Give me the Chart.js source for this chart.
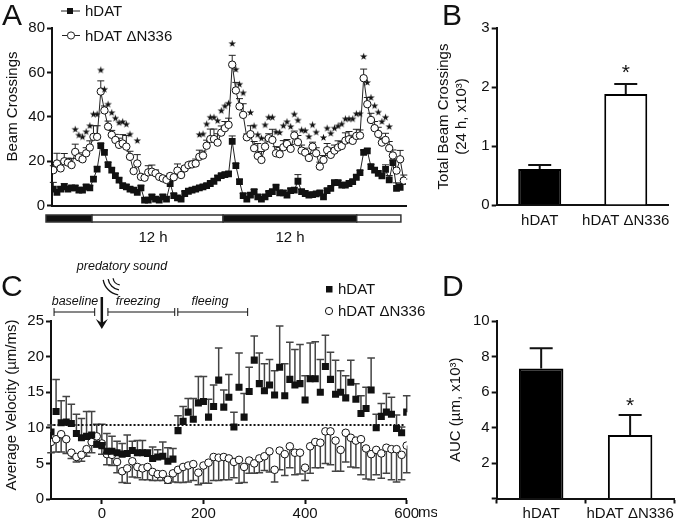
<!DOCTYPE html>
<html>
<head>
<meta charset="utf-8">
<style>
html, body { margin: 0; padding: 0; background: #fff; }
#page { position: relative; width: 677px; height: 521px; overflow: hidden; }
canvas { position: absolute; }
</style>
<script src="https://cdn.jsdelivr.net/npm/chart.js@4/dist/chart.umd.min.js"></script>
</head>
<body>
<div id="page">
  <canvas id="panelA" width="430" height="250" style="left:0;top:0"></canvas>
  <canvas id="panelB" width="247" height="250" style="left:430px;top:0"></canvas>
  <canvas id="panelC" width="437" height="266" style="left:0;top:255px"></canvas>
  <canvas id="panelD" width="247" height="266" style="left:430px;top:255px"></canvas>
</div>
<script>
// Panel A - beam crossings, one point per time bin
const beamDat = [7.5,6,7.5,8.5,7.5,8,8,7,7,8.5,8,12,16.5,
  27,24,18.5,16,13.5,11.5,9,8.5,7.5,7,6,8,
  2.5,2.5,4,3,2.5,4,3,10,
  4.5,3.5,3,5.5,6.5,7,7.5,8,8.5,9,10,11,12.5,13.5,14,14.3,
  29,18,10.8,4.5,3,4.8,6.3,4,3,4,5.5,6.3,8.3,5.8,5.8,4.8,6.8,7,11,
  6.3,5.5,4.8,5,5.3,5.8,4,6.8,7.8,10.4,10.4,9.3,9.3,10,10.8,12.8,14.9,
  24,24.7,17.6,16,14.6,13.4,16.4,11.6,19.4,7.8,8.3,11];
const beamDatErr = [3,1,1,1.5,1,1,1,1,1,1,1,1,1,
  1,1,1,1,1,1,1,1,1,1,1,1,
  1,1,1,1,1,1,1,3,
  1,1,1,1,1,1,1,1,1,1,1,1,1,1,1,1,
  2.4,1,1,1,1,1,1,1,1,1,1,1,1,1,1,1,1,1,3,
  1,1,1,1,1,1,1,1,1,1,1,1,1,1,1,1,1,
  1,1,1,1,1,1,2,2,1,2.5,1.5,1];
const beamMut = [16,19,16.8,20,19.4,18.3,24.2,21.8,20.9,23.6,26.2,31,31,
  51.4,42.9,35.6,31.9,29.6,27.4,28,26.6,22,15.6,19,13,
  12.6,15,15.3,14.6,13,12.3,11.6,13.4,12.8,15.8,13.8,16.8,
  18.3,18.6,19,22,22.6,27,30,30,28.4,32.9,34.9,36.4,
  63.5,51.9,44.7,40.9,30.8,32.2,25.9,22.4,20.6,26.6,30.4,29.6,23.6,23.2,26.3,27.8,25.6,31.6,28.6,
  24.8,23.9,21.5,26.6,23.6,17.6,20.6,25,22.9,24.8,26.2,26.9,29.3,29.9,29.2,31.4,31.6,
  57.4,45.7,38.6,34.9,32.3,28.4,29.6,25.9,22.6,15.8,20.9,11.3];
const beamMutErr = [2,4.6,3,3.5,2,3,3.5,2,2,2.5,3,5,5,
  4.8,2,2.5,2,2.5,3,4,5,2.5,1,4,1,
  1,3,3,1.5,1,1,1,1,1,3,1,1,
  1,1.5,2,3,2,2.5,4.5,4.5,4,3,3,3,
  4.2,3.6,3.5,5,1.5,3.8,3,5.6,3.8,3.8,2,4.8,3,3,3,2,2,2,3,
  2.5,2,2,2,2.5,2,2,3,3,2.5,3,2,3.5,3.5,2.5,3,2.5,
  4.1,3,3,3,3,2,3,3,2.5,1,4,2.5];
const starBins = [6,7,8,9,10,11,12,13,14,15,16,17,18,19,20,21,23,
  40,41,42,43,44,45,46,47,48,49,50,51,52,54,55,56,57,58,59,60,61,62,63,64,65,66,67,68,69,70,71,72,
  74,75,76,77,78,79,80,81,82,83,84,85,86,87,88,89,90,91,92];
const starHeights = [34.4,31.8,31,33.3,36,41.2,41.2,61.1,52.4,45.7,41.9,39.4,37.4,37.8,36.7,32.2,29.3,
  32,32.3,36.8,39.8,39.8,38.3,42.8,44.9,46.1,73,61.4,54.7,50.8,42,35.9,32,30.4,36.4,39.8,39.8,33.2,33,36,37.8,35.6,41.2,38.5,34.1,33.8,31.1,36.4,33.1,
  30.7,34.9,32.6,34.9,35.9,36.8,39.1,39.1,39.1,41.4,41.4,67.2,55.5,48.7,45,42.1,37.9,39.8,35.6];
const lightStart = [-2, 10.6, 46.5, 83.1];
const lightEnd = [10.6, 46.5, 83.1, 95.2];
const lightFill = ['#111', '#fff', '#111', '#fff'];

// Panel C - velocity, -100 to 600 ms in 10 ms steps
const timeMs = [-100,-90,-80,-70,-60,-50,-40,-30,-20,-10,0,10,20,30,40,50,60,70,80,90,100,110,120,130,140,
  150,160,170,180,190,200,210,220,230,240,250,260,270,280,290,300,310,320,330,340,350,360,370,
  380,390,400,410,420,430,440,450,460,470,480,490,500,510,520,530,540,550,560,570,580,590,600];
const velDat = [9.4,12.3,10.7,10.8,10.6,9.2,8.6,8.8,9,7.7,7.5,6.7,6.7,6.5,6.3,6.4,6.8,6.5,6.5,6.4,5.7,5.9,6,5.3,5.6,
  9.6,10.9,12.2,11.2,13.5,13.7,11.5,13,16.7,12.9,14.3,10.1,15.7,11.5,15.1,19.5,16.2,15.2,16,14.6,18.5,14.5,16.8,
  16,16.2,13.9,16.9,16.9,15,18.6,16.8,14.7,15,14.2,16.4,14,12,12.7,15.3,10,11.6,12.2,11.9,9.9,9.3,12.2];
const velDatErr = [1,4.5,3.1,3.6,2.7,2.7,2.7,3.5,3.3,2.8,3,2.5,2.1,1.6,1.5,2.6,1.3,1.7,1.7,0.5,1.6,1,2,1.9,1.5,
  2.1,2.1,1.9,2.9,3.7,3.5,2.5,3,4.5,2.4,3.2,2.1,4.8,3.3,3.4,3.4,4.3,3.8,3.6,3.4,5.8,4.5,5.2,
  5,5.5,3.4,5,5.2,4.6,4.4,3.8,4.8,3,3.1,3.1,2.2,2.5,3,4.5,1.9,1.8,2.6,2.4,1.9,0.8,2.3];
const velMut = [8,8.4,9.1,8.4,6.5,5.9,6.2,7,8,8.8,7.8,6.3,6.2,5.2,3.9,4.3,5.3,4.5,4.3,4.5,3.8,3.5,3.5,2.7,3.6,
  4.1,4.5,4.7,4.9,3.7,4.7,5.1,5.9,5.8,5.9,5.7,5.2,5.5,4.5,5.4,5,5.7,6,6.7,4.1,6.8,6.3,7.4,
  6.5,6.5,4.4,7.4,8,7.9,9.5,9.5,8.2,6.9,9.3,8.6,8.2,8.4,7.1,6.3,6.9,6.4,7.2,7,7,6.2,7.5];
const velMutErr = [1.5,1.8,2.5,2,0.8,0.7,0.9,1,1.5,1.5,1.5,1.5,1.5,1.5,1.6,2.1,2.2,1.5,1.6,1.8,1.2,0.9,0.9,0.5,1.2,
  1.8,2.2,2.3,2.3,1.7,2.5,2.9,3.3,3.2,3.2,3,2.2,3.3,2.2,1.8,1.4,2,2,2.9,1.7,2.7,3,3,
  3.1,3,1.8,3.8,3.6,3.5,4.5,4.7,4.3,3,4.1,4.1,3.8,5,4.3,3.6,3.5,3.5,3.6,4.3,4.6,3.5,3.8];
const dottedMs = [-95, 597];
const dottedLevel = [10.4, 10.4];
const phaseStart = [-94, 12, 149.5];
const phaseEnd = [-14, 143.5, 287];

// Panels B and D
const groups = ['hDAT', 'hDAT ΔN336'];
const totalCrossings = [0.61, 1.88];
const totalErr = [0.07, 0.17];
const totalSig = [null, 2.14];
const aucValues = [7.33, 3.58];
const aucErr = [1.13, 1.12];
const aucSig = [null, 4.89];

const FONT = '"Liberation Sans", Arial, sans-serif';
const INK = '#111';

Chart.defaults.font.family = FONT;
Chart.defaults.font.size = 15;
Chart.defaults.color = INK;
Chart.defaults.animation = false;
Chart.defaults.responsive = false;
Chart.defaults.plugins.legend.display = false;
Chart.defaults.plugins.tooltip.enabled = false;

function points(xs, ys) {
    return ys.map((y, i) => ({ x: xs[i], y: y }));
}

// small five pointed star used as point style in panel A
function makeStar() {
    const c = document.createElement('canvas');
    c.width = 9;
    c.height = 9;
    const g = c.getContext('2d');
    g.fillStyle = INK;
    g.beginPath();
    for (let i = 0; i < 10; i++) {
        const r = i % 2 ? 1.5 : 3.9;
        const a = -Math.PI / 2 + i * Math.PI / 5;
        g.lineTo(4.5 + r * Math.cos(a), 4.7 + r * Math.sin(a));
    }
    g.closePath();
    g.fill();
    return c;
}

// Error bars read from dataset.errUp / dataset.errDown
const errorBars = {
    id: 'errorBars',
    beforeDatasetsDraw(chart) {
        const ctx = chart.ctx;
        chart.data.datasets.forEach((ds, d) => {
            if (!ds.errUp && !ds.errDown) return;
            const yScale = chart.scales.y;
            const els = chart.getDatasetMeta(d).data;
            ctx.save();
            ctx.strokeStyle = ds.errColor || INK;
            ctx.lineWidth = ds.errWidth || 1;
            const err = ds.errUp || ds.errDown;
            const sign = ds.errUp ? 1 : -1;
            els.forEach((el, i) => {
                const v = chart.data.datasets[d].data[i];
                const val = typeof v === 'object' ? v.y : v;
                const end = yScale.getPixelForValue(val + sign * err[i]);
                ctx.beginPath();
                ctx.moveTo(el.x, yScale.getPixelForValue(val));
                ctx.lineTo(el.x, end);
                ctx.moveTo(el.x - ds.errCap, end);
                ctx.lineTo(el.x + ds.errCap, end);
                ctx.stroke();
            });
            ctx.restore();
        });
    }
};

function text(ctx, str, x, y, font, align) {
    ctx.font = font;
    ctx.textAlign = align || 'left';
    ctx.textBaseline = 'alphabetic';
    ctx.fillStyle = INK;
    ctx.fillText(str, x, y);
}

// rotated axis label, for the ones not centred on their axis
function sideLabel(ctx, str, x, y) {
    ctx.save();
    ctx.translate(x, y);
    ctx.rotate(-Math.PI / 2);
    text(ctx, str, 0, 0, '15px ' + FONT, 'center');
    ctx.restore();
}

function axisY(min, max, step, titleText, width, titleGap, tickCb) {
    return {
        min: min,
        max: max,
        afterFit: s => { s.width = width; },
        border: { color: INK, width: 2 },
        grid: { drawOnChartArea: false, tickColor: INK, tickWidth: 2, tickLength: 5 },
        ticks: { stepSize: step, padding: 2, callback: tickCb || (v => v), font: { size: 15 } },
        title: { display: !!titleText, text: titleText, font: { size: 15 }, padding: { top: titleGap, bottom: 0 }, color: INK }
    };
}

// ---- Panel A ----
new Chart(document.getElementById('panelA'), {
    type: 'scatter',
    data: {
        datasets: [
            { data: points(beamMut.map((_, i) => i), beamMut), showLine: true, borderColor: '#222', borderWidth: 1,
              pointStyle: 'circle', pointRadius: 3.7, pointBorderWidth: 1, pointBorderColor: INK, pointBackgroundColor: '#fff',
              errUp: beamMutErr, errCap: 3.5, errColor: '#222', errWidth: 1, order: 1 },
            { data: points(beamDat.map((_, i) => i), beamDat), showLine: true, borderColor: '#222', borderWidth: 1,
              pointStyle: 'rect', pointRadius: 4.8, pointBorderWidth: 0, pointBackgroundColor: INK,
              errUp: beamDatErr, errCap: 3.5, errColor: '#222', errWidth: 1, order: 2 },
            { data: points(starBins, starHeights), showLine: false, pointStyle: makeStar(), pointRadius: 4, order: 0 }
        ]
    },
    options: {
        layout: { padding: { left: 0, right: 24, top: 28, bottom: 44.3 } },
        scales: {
            x: {
                type: 'linear', min: -0.36, max: 96.6,
                afterFit: s => { s.height = 0; },
                border: { color: INK, width: 2 },
                grid: { display: false },
                ticks: { display: false }
            },
            y: axisY(0, 80, 20, null, 52, 0)
        }
    },
    plugins: [errorBars, {
        id: 'notesA',
        afterDraw(chart) {
            const ctx = chart.ctx;
            const x = chart.scales.x;
            // light/dark bar under the axis
            ctx.save();
            ctx.lineWidth = 1.5;
            ctx.strokeStyle = '#333';
            lightStart.forEach((s, i) => {
                const a = x.getPixelForValue(s);
                const b = x.getPixelForValue(lightEnd[i]);
                ctx.fillStyle = lightFill[i];
                ctx.fillRect(a, 215, b - a, 7);
                ctx.strokeRect(a, 215, b - a, 7);
            });
            ctx.restore();
            sideLabel(ctx, 'Beam Crossings', 17, 106.5);
            text(ctx, '12 h', 153, 242, '15px ' + FONT, 'center');
            text(ctx, '12 h', 290, 242, '15px ' + FONT, 'center');
            text(ctx, 'A', 2, 25, '30px ' + FONT);
            // legend
            ctx.save();
            ctx.strokeStyle = '#222';
            ctx.lineWidth = 1;
            ctx.beginPath();
            ctx.moveTo(61, 11); ctx.lineTo(80, 11);
            ctx.moveTo(62, 35.5); ctx.lineTo(80, 35.5);
            ctx.stroke();
            ctx.fillStyle = INK;
            ctx.fillRect(67, 8, 6, 6);
            ctx.fillStyle = '#fff';
            ctx.beginPath();
            ctx.arc(71, 35.5, 3.6, 0, Math.PI * 2);
            ctx.fill();
            ctx.stroke();
            ctx.restore();
            text(ctx, 'hDAT', 85, 15.5, '15px ' + FONT);
            text(ctx, 'hDAT ΔN336', 85, 41, '15px ' + FONT);
        }
    }]
});

// ---- Panel B and D share the bar set up ----
function barChart(id, values, errs, sig, yAxis, pad, xHeight, xTicks, letter, letterY) {
    return new Chart(document.getElementById(id), {
        type: 'bar',
        data: {
            labels: groups,
            datasets: [{
                data: values,
                backgroundColor: ['#000', '#fff'],
                borderColor: '#000',
                borderWidth: 2,
                barPercentage: 0.5,
                categoryPercentage: 1,
                errUp: errs, errCap: 11.5, errColor: INK, errWidth: 2
            }]
        },
        options: {
            layout: { padding: pad },
            scales: {
                x: {
                    afterFit: s => { s.height = xHeight; },
                    border: { color: INK, width: 2 },
                    grid: { drawOnChartArea: false, drawTicks: xTicks, tickColor: INK, tickWidth: 2, tickLength: 5 },
                    ticks: { padding: xTicks ? 1 : 7, maxRotation: 0, autoSkip: false, font: { size: 15 } }
                },
                y: yAxis
            }
        },
        plugins: [errorBars, {
            id: 'notes' + letter,
            afterDraw(chart) {
                const ctx = chart.ctx;
                sig.forEach((v, i) => {
                    if (v === null) return;
                    text(ctx, '*', chart.scales.x.getPixelForValue(i), chart.scales.y.getPixelForValue(v), '21px ' + FONT, 'center');
                });
                text(ctx, letter, 12, letterY, '30px ' + FONT);
            }
        }]
    });
}

barChart('panelB', totalCrossings, totalErr, totalSig,
    axisY(0, 3, 1, ['Total Beam Crossings', '(24 h, x10³)'], 66.7, 5),
    { left: 0, right: 2.4, top: 28, bottom: 15 }, 30, false, 'B', 25);

barChart('panelD', aucValues, aucErr, aucSig,
    axisY(0, 10, 2, 'AUC (µm, x10³)', 66.7, 17, v => (v === 0 ? '' : v)),
    { left: 0, right: 2.4, top: 66, bottom: 0 }, 22.5, true, 'D', 41);

// ---- Panel C ----
new Chart(document.getElementById('panelC'), {
    type: 'scatter',
    data: {
        datasets: [
            { data: points(dottedMs, dottedLevel), showLine: true, borderColor: INK, borderWidth: 2, borderDash: [2, 2], pointRadius: 0, order: 3 },
            { data: points(timeMs, velDat), pointStyle: 'rect', pointRadius: 5, pointBorderWidth: 0, pointBackgroundColor: INK,
              errUp: velDatErr, errCap: 3.8, errColor: '#444', errWidth: 1.5, order: 1 },
            { data: points(timeMs, velMut), pointStyle: 'circle', pointRadius: 3.8, pointBorderWidth: 1, pointBorderColor: INK, pointBackgroundColor: '#fff',
              errDown: velMutErr, errCap: 3.8, errColor: '#444', errWidth: 1.5, order: 2 }
        ]
    },
    options: {
        layout: { padding: { left: 0, right: 30.3, top: 66, bottom: 0 } },
        scales: {
            x: {
                type: 'linear', min: -100, max: 600,
                afterFit: s => { s.height = 22; },
                afterBuildTicks: s => { s.ticks = [{ value: 0 }, { value: 200 }, { value: 400 }, { value: 600 }]; },
                border: { color: INK, width: 2 },
                grid: { drawOnChartArea: false, tickColor: INK, tickWidth: 2, tickLength: 5 },
                ticks: { padding: 1, font: { size: 15 } }
            },
            y: axisY(0, 25, 5, null, 51, 0)
        }
    },
    plugins: [errorBars, {
        id: 'notesC',
        afterDraw(chart) {
            const ctx = chart.ctx;
            const x = chart.scales.x;
            const top = 255;
            sideLabel(ctx, 'Average Velocity (µm/ms)', 16, 405 - top);
            text(ctx, 'C', 1, 296 - top, '30px ' + FONT);
            text(ctx, 'ms', 418, 517 - top, '15px ' + FONT);
            text(ctx, 'predatory sound', 122, 270 - top, 'italic 12.5px ' + FONT, 'center');
            text(ctx, 'baseline', 75, 305 - top, 'italic 12.5px ' + FONT, 'center');
            text(ctx, 'freezing', 138, 305 - top, 'italic 12.5px ' + FONT, 'center');
            text(ctx, 'fleeing', 210, 305 - top, 'italic 12.5px ' + FONT, 'center');
            ctx.save();
            ctx.strokeStyle = INK;
            ctx.fillStyle = INK;
            // phase brackets
            ctx.lineWidth = 1;
            phaseStart.forEach((s, i) => {
                const a = x.getPixelForValue(s);
                const b = x.getPixelForValue(phaseEnd[i]);
                const y = 312 - top;
                ctx.beginPath();
                ctx.moveTo(a, y - 4); ctx.lineTo(a, y + 4);
                ctx.moveTo(a, y); ctx.lineTo(b, y);
                ctx.moveTo(b, y - 4); ctx.lineTo(b, y + 4);
                ctx.stroke();
            });
            // sound waves
            ctx.lineWidth = 1.3;
            [8, 13, 18].forEach(r => {
                ctx.beginPath();
                ctx.arc(121, 277 - top, r, Math.PI * 0.55, Math.PI * 0.95);
                ctx.stroke();
            });
            // arrow at time 0
            const ax = x.getPixelForValue(0);
            ctx.lineWidth = 2.5;
            ctx.beginPath();
            ctx.moveTo(ax, 297 - top); ctx.lineTo(ax, 324 - top);
            ctx.stroke();
            ctx.beginPath();
            ctx.moveTo(ax - 6, 319 - top);
            ctx.lineTo(ax, 329 - top);
            ctx.lineTo(ax + 6, 319 - top);
            ctx.lineTo(ax, 323 - top);
            ctx.closePath();
            ctx.fill();
            // legend
            ctx.fillRect(326, 286 - top, 6.5, 6.5);
            ctx.lineWidth = 1;
            ctx.fillStyle = '#fff';
            ctx.beginPath();
            ctx.arc(329, 311 - top, 3.6, 0, Math.PI * 2);
            ctx.fill();
            ctx.stroke();
            ctx.restore();
            text(ctx, 'hDAT', 338, 294 - top, '15px ' + FONT);
            text(ctx, 'hDAT ΔN336', 338, 316 - top, '15px ' + FONT);
        }
    }]
});
</script>
</body>
</html>
